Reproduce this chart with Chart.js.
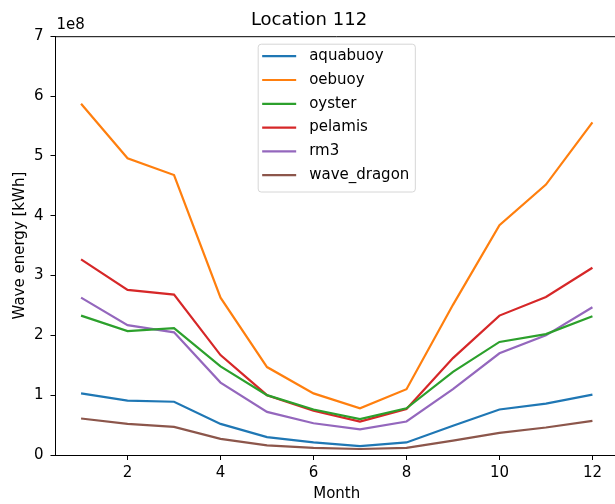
<!DOCTYPE html>
<html>
<head>
<meta charset="utf-8">
<script src="https://cdn.jsdelivr.net/npm/chart.js@4.4.1/dist/chart.umd.min.js"></script>
<style>
  html, body { margin: 0; padding: 0; background: #fff; overflow: hidden; }
  #wrap { width: 615px; height: 504px; overflow: hidden; }
</style>
</head>
<body>
<div id="wrap"><canvas id="chart" width="622" height="504"></canvas></div>
<script>
const months = [1, 2, 3, 4, 5, 6, 7, 8, 9, 10, 11, 12];
const xTicks = [2, 4, 6, 8, 10, 12];

// wave energy per month [kWh]
const aquabuoy = [1.03e8, 0.91e8, 0.89e8, 0.52e8, 0.30e8, 0.21e8, 0.15e8, 0.21e8, 0.49e8, 0.76e8, 0.86e8, 1.01e8];
const oebuoy = [5.87e8, 4.96e8, 4.68e8, 2.63e8, 1.47e8, 1.03e8, 0.78e8, 1.10e8, 2.51e8, 3.84e8, 4.52e8, 5.56e8];
const oyster = [2.33e8, 2.07e8, 2.12e8, 1.48e8, 1.00e8, 0.76e8, 0.60e8, 0.78e8, 1.39e8, 1.89e8, 2.02e8, 2.32e8];
const pelamis = [3.27e8, 2.76e8, 2.68e8, 1.67e8, 1.00e8, 0.74e8, 0.56e8, 0.77e8, 1.62e8, 2.33e8, 2.64e8, 3.13e8];
const rm3 = [2.63e8, 2.17e8, 2.05e8, 1.21e8, 0.72e8, 0.53e8, 0.43e8, 0.56e8, 1.10e8, 1.70e8, 2.00e8, 2.47e8];
const waveDragon = [0.61e8, 0.52e8, 0.47e8, 0.27e8, 0.16e8, 0.12e8, 0.10e8, 0.12e8, 0.24e8, 0.37e8, 0.46e8, 0.57e8];

const FONT = "'DejaVu Sans', sans-serif";

function series(label, values, color) {
  return {
    label: label,
    data: months.map((m, i) => ({ x: m, y: values[i] })),
    borderColor: color,
    backgroundColor: color,
    borderWidth: 2.2,
    pointRadius: 0,
    tension: 0,
  };
}

// legend box drawn inside the plot, like matplotlib's
const boxLegend = {
  id: "boxLegend",
  afterDraw(chart) {
    const { ctx, chartArea } = chart;
    const sets = chart.data.datasets;
    ctx.save();
    ctx.font = "15px " + FONT;
    let maxW = 0;
    sets.forEach((d) => (maxW = Math.max(maxW, ctx.measureText(d.label).width)));
    const w = 4 + 34 + 13 + maxW + 6;
    const rowH = 23.8;
    const h = sets.length * rowH + 5;
    const x0 = (chartArea.left + chartArea.right) / 2 - w / 2;
    const y0 = chartArea.top + 8;
    ctx.beginPath();
    ctx.roundRect(x0, y0, w, h, 3);
    ctx.fillStyle = "rgba(255,255,255,0.8)";
    ctx.fill();
    ctx.strokeStyle = "#d6d6d6";
    ctx.lineWidth = 1;
    ctx.stroke();
    sets.forEach((d, i) => {
      const cy = y0 + 12 + i * rowH;
      ctx.beginPath();
      ctx.moveTo(x0 + 4, cy);
      ctx.lineTo(x0 + 38, cy);
      ctx.strokeStyle = d.borderColor;
      ctx.lineWidth = 2.2;
      ctx.stroke();
      ctx.fillStyle = "#000";
      ctx.textBaseline = "middle";
      ctx.fillText(d.label, x0 + 51, cy);
    });
    // top spine and the offset text of the y axis
    ctx.beginPath();
    ctx.moveTo(chartArea.left, chartArea.top + 0.5);
    ctx.lineTo(chartArea.right, chartArea.top + 0.5);
    ctx.strokeStyle = "#000";
    ctx.lineWidth = 1;
    ctx.stroke();
    ctx.fillStyle = "#000";
    ctx.textBaseline = "middle";
    ctx.fillText("1e8", chartArea.left + 1, 25);
    ctx.restore();
  },
};

new Chart(document.getElementById("chart"), {
  type: "line",
  plugins: [boxLegend],
  data: {
    datasets: [
      series("aquabuoy", aquabuoy, "#1f77b4"),
      series("oebuoy", oebuoy, "#ff7f0e"),
      series("oyster", oyster, "#2ca02c"),
      series("pelamis", pelamis, "#d62728"),
      series("rm3", rm3, "#9467bd"),
      series("wave_dragon", waveDragon, "#8c564b"),
    ],
  },
  options: {
    responsive: false,
    devicePixelRatio: 1,
    animation: false,
    layout: { padding: { left: 0, right: 4, top: 0, bottom: 0 } },
    plugins: {
      legend: { display: false },
      tooltip: { enabled: false },
      title: {
        display: true,
        text: "Location 112",
        color: "#000",
        font: { family: FONT, size: 18, weight: "normal", lineHeight: 1.2 },
        padding: { top: 10, bottom: 4.6 },
      },
    },
    scales: {
      x: {
        type: "linear",
        min: 0.45,
        max: 12.55,
        afterBuildTicks: (s) => (s.ticks = xTicks.map((v) => ({ value: v }))),
        afterFit: (s) => (s.height = 49),
        grid: { drawOnChartArea: false, drawTicks: true, tickLength: 5, color: "#000" },
        border: { display: true, color: "#000", width: 1 },
        ticks: { color: "#000", font: { family: FONT, size: 15 }, padding: 4, maxRotation: 0 },
        title: {
          display: true,
          text: "Month",
          color: "#000",
          font: { family: FONT, size: 15, lineHeight: 1.2 },
          padding: { top: 0, bottom: 1 },
        },
      },
      y: {
        min: 0,
        max: 7e8,
        afterFit: (s) => (s.width = 55.5),
        grid: { drawOnChartArea: false, drawTicks: true, tickLength: 5, color: "#000" },
        border: { display: true, color: "#000", width: 1 },
        ticks: {
          stepSize: 1e8,
          color: "#000",
          font: { family: FONT, size: 15 },
          padding: 7,
          callback: (v) => String(Math.round(v / 1e8)),
        },
        title: {
          display: true,
          text: "Wave energy [kWh]",
          color: "#000",
          font: { family: FONT, size: 15, lineHeight: 1.2 },
          padding: { top: 11, bottom: 0 },
        },
      },
    },
  },
});
</script>
</body>
</html>
